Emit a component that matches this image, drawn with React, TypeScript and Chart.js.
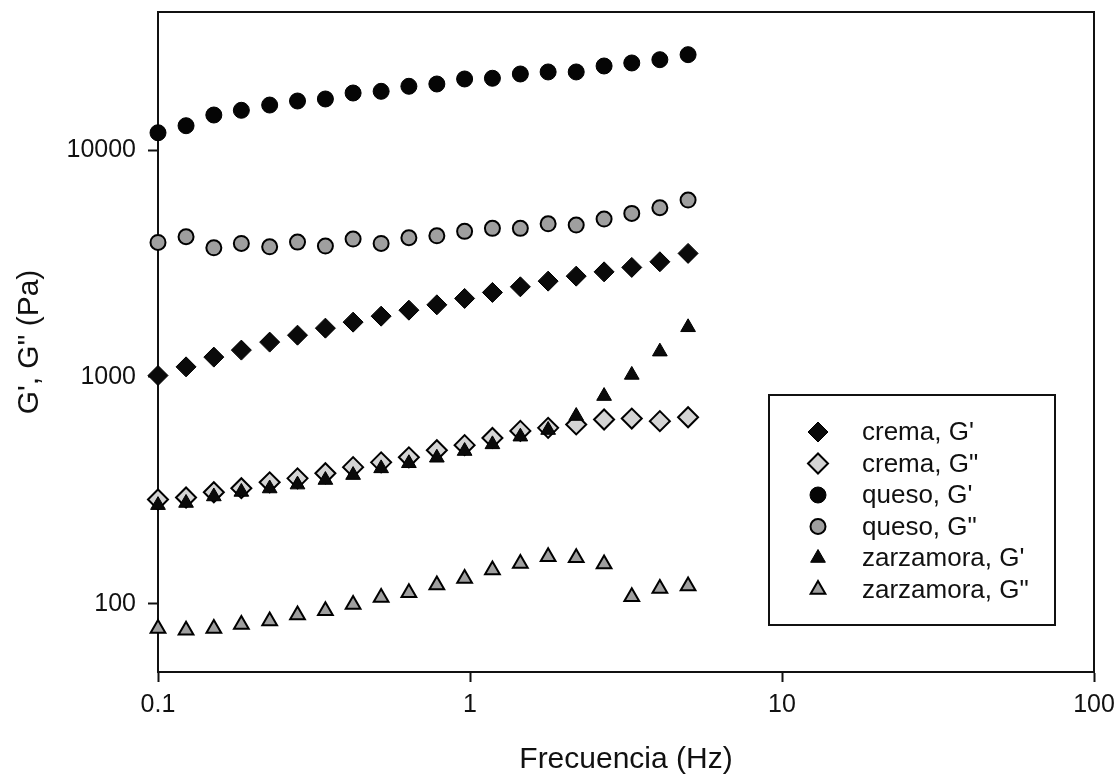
import React, { useEffect, useRef } from 'react';
import { Chart, registerables } from 'chart.js';
import { drawPoint } from 'chart.js/helpers';

Chart.register(...registerables);

// Oscillation frequency (Hz)
const frequencies = [0.1, 0.123, 0.151, 0.185, 0.228, 0.28, 0.344, 0.422, 0.519, 0.637, 0.783, 0.961, 1.18, 1.45, 1.78, 2.19, 2.69, 3.3, 4.06, 5.0];

// Storage (G') and loss (G'') moduli, Pa
const cremaG1 = [1014, 1107, 1222, 1312, 1423, 1527, 1640, 1743, 1852, 1968, 2078, 2217, 2356, 2495, 2643, 2780, 2904, 3038, 3217, 3502];
const cremaG2 = [288, 294, 310, 323, 343, 357, 376, 400, 420, 442, 475, 500, 538, 578, 596, 617, 649, 655, 638, 664];
const quesoG1 = [11920, 12800, 14270, 14970, 15790, 16450, 16790, 17840, 18150, 19100, 19550, 20570, 20720, 21640, 22090, 22090, 23470, 24200, 25020, 26330];
const quesoG2 = [3916, 4146, 3707, 3876, 3745, 3927, 3772, 4050, 3876, 4104, 4188, 4380, 4515, 4515, 4729, 4667, 4962, 5257, 5566, 6018];
const zarzamoraG1 = [272, 278, 297, 311, 322, 335, 351, 369, 395, 416, 440, 471, 504, 545, 583, 672, 823, 1020, 1292, 1654];
const zarzamoraG2 = [77.7, 76.4, 77.7, 80.9, 84.0, 89.1, 93.0, 99.2, 106.5, 111.7, 120.8, 129.2, 140.7, 150.5, 161.1, 159.4, 149.6, 107.3, 116.7, 119.6];

const seriesLabels = ["crema, G'", 'crema, G"', "queso, G'", 'queso, G"', "zarzamora, G'", 'zarzamora, G"'];

const xTickValues = [0.1, 1, 10, 100];
const yTickValues = [100, 1000, 10000];

const FONT = "Arial, 'Liberation Sans', Helvetica, sans-serif";
const INK = '#111111';

const toPoints = (ys: number[]) => ys.map((y, i) => ({ x: frequencies[i], y }));

const styles = [
  { pointStyle: 'rectRot', radius: 10, fill: '#0a0a0a', borderWidth: 1, order: 6 },
  { pointStyle: 'rectRot', radius: 10, fill: '#d4d4d4', borderWidth: 2, order: 5 },
  { pointStyle: 'circle', radius: 8, fill: '#050505', borderWidth: 1, order: 4 },
  { pointStyle: 'circle', radius: 7.5, fill: '#9f9f9f', borderWidth: 2, order: 3 },
  { pointStyle: 'triangle', radius: 8.5, fill: '#0a0a0a', borderWidth: 1, order: 2 },
  { pointStyle: 'triangle', radius: 8.5, fill: '#9f9f9f', borderWidth: 2, order: 1 },
];

const seriesValues = [cremaG1, cremaG2, quesoG1, quesoG2, zarzamoraG1, zarzamoraG2];

// Closes the plot frame on the top and right sides
const framePlugin = {
  id: 'frame',
  afterDraw(chart: any) {
    const { ctx, chartArea: a } = chart;
    ctx.save();
    ctx.strokeStyle = INK;
    ctx.lineWidth = 2;
    ctx.beginPath();
    ctx.moveTo(a.left, a.top);
    ctx.lineTo(a.right, a.top);
    ctx.lineTo(a.right, a.bottom);
    ctx.stroke();
    ctx.restore();
  },
};

// Boxed legend inside the plot area, lower right
const boxLegendPlugin = {
  id: 'boxLegend',
  afterDraw(chart: any, _args: any, opts: any) {
    const { ctx } = chart;
    ctx.save();
    ctx.fillStyle = '#ffffff';
    ctx.fillRect(opts.left, opts.top, opts.width, opts.height);
    ctx.strokeStyle = INK;
    ctx.lineWidth = 2;
    ctx.strokeRect(opts.left, opts.top, opts.width, opts.height);
    chart.data.datasets.forEach((ds: any, i: number) => {
      const y = opts.firstRow + i * opts.rowGap;
      ctx.fillStyle = ds.backgroundColor;
      ctx.strokeStyle = ds.borderColor;
      ctx.lineWidth = ds.borderWidth;
      drawPoint(ctx, { pointStyle: ds.pointStyle, radius: ds.pointRadius, rotation: 0, borderWidth: ds.borderWidth }, opts.symbolX, y);
      ctx.fillStyle = INK;
      ctx.font = `${opts.fontSize}px ${FONT}`;
      ctx.textAlign = 'left';
      ctx.textBaseline = 'middle';
      ctx.fillText(ds.label, opts.textX, y + 1);
    });
    ctx.restore();
  },
};

export default function App() {
  const canvasRef = useRef<HTMLCanvasElement>(null);

  useEffect(() => {
    const canvas = canvasRef.current;
    if (!canvas) return;
    const chart = new Chart(canvas, {
      type: 'scatter',
      data: {
        datasets: seriesValues.map((vals, i) => ({
          label: seriesLabels[i],
          data: toPoints(vals),
          pointStyle: styles[i].pointStyle as any,
          pointRadius: styles[i].radius,
          pointHoverRadius: styles[i].radius,
          backgroundColor: styles[i].fill,
          borderColor: '#000000',
          borderWidth: styles[i].borderWidth,
          showLine: false,
          clip: false as any,
          order: styles[i].order,
        })),
      },
      options: {
        responsive: false,
        animation: false,
        events: [],
        layout: { padding: { left: 0, top: 12, right: 26, bottom: 0 } },
        plugins: {
          legend: { display: false },
          tooltip: { enabled: false },
          boxLegend: {
            left: 769, top: 395, width: 286, height: 230,
            symbolX: 818, textX: 862, firstRow: 432, rowGap: 31.5, fontSize: 26,
          },
        } as any,
        scales: {
          x: {
            type: 'logarithmic',
            min: 0.1,
            max: 100,
            afterBuildTicks: (s: any) => { s.ticks = xTickValues.map((v) => ({ value: v })); },
            afterFit: (s: any) => {
              s.height = 112;
              s.paddingLeft = 0;
              s.paddingRight = 0;
            },
            ticks: {
              autoSkip: false,
              maxRotation: 0,
              padding: 8,
              color: INK,
              font: { family: FONT, size: 25 },
              callback: (v: any) => String(v),
            },
            grid: { drawOnChartArea: false, drawTicks: true, tickLength: 10, tickColor: INK, tickWidth: 2 },
            border: { display: true, color: INK, width: 2 },
            title: {
              display: true,
              text: 'Frecuencia (Hz)',
              color: INK,
              font: { family: FONT, size: 30 },
              padding: { top: 0, bottom: 6 },
            },
          },
          y: {
            type: 'logarithmic',
            min: 50,
            max: 40600,
            afterBuildTicks: (s: any) => { s.ticks = yTickValues.map((v) => ({ value: v })); },
            afterFit: (s: any) => {
              s.width = 158;
              s.paddingTop = 0;
              s.paddingBottom = 0;
            },
            ticks: {
              autoSkip: false,
              padding: 12,
              color: INK,
              font: { family: FONT, size: 25 },
              callback: (v: any) => String(v),
            },
            grid: { drawOnChartArea: false, drawTicks: true, tickLength: 10, tickColor: INK, tickWidth: 2 },
            border: { display: true, color: INK, width: 2 },
            title: {
              display: true,
              text: 'G\', G" (Pa)',
              color: INK,
              font: { family: FONT, size: 30 },
              padding: { top: 12, bottom: 0 },
            },
          },
        },
      },
      plugins: [framePlugin, boxLegendPlugin],
    });
    return () => chart.destroy();
  }, []);

  return (
    <div style={{ position: 'absolute', left: 0, top: 0, width: 1120, height: 784, background: '#ffffff' }}>
      <canvas ref={canvasRef} width={1120} height={784} />
    </div>
  );
}
